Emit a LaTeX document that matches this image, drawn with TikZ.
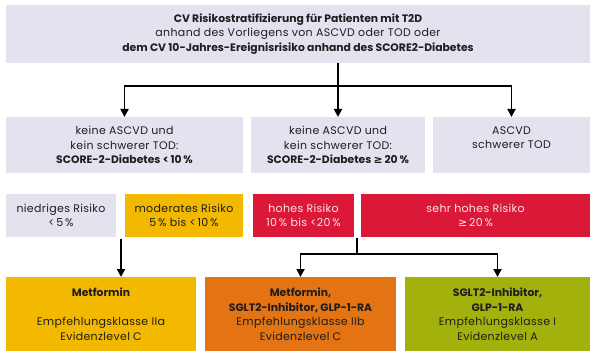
\documentclass[tikz,border=0pt]{standalone}
\usepackage{fontspec}
\setmainfont{Poppins}[LetterSpace=3]
\newfontfamily\bfam{Poppins}
\newfontfamily\symfont{DejaVu Sans}
\usetikzlibrary{arrows.meta}
\definecolor{greybox}{HTML}{E2E3EF}
\definecolor{yellowbox}{HTML}{F3B800}
\definecolor{redbox}{HTML}{DB1838}
\definecolor{orangebox}{HTML}{E37313}
\definecolor{olivebox}{HTML}{A2B10B}
\definecolor{darktext}{HTML}{1E1E1E}
\definecolor{pinktext}{HTML}{FBE3E8}
\newcommand{\mygeq}{{\symfont ≥}}
\newcommand{\bt}[1]{{\bfam\bfseries\fontsize{10.8}{14.5}\selectfont #1}}
\tikzset{
  bx/.style={anchor=north west, inner sep=0pt, outer sep=0pt, align=center,
    text=darktext, font=\fontsize{11}{14.5}\selectfont},
  conn/.style={line width=1.8pt, draw=black},
  arr/.style={conn, -{Triangle[width=8pt,length=8pt]}},
}
\begin{document}
\begin{tikzpicture}[x=1pt,y=-1pt]
\useasboundingbox[fill=white] (0,0) rectangle (597,358);
% top
\node[bx, fill=greybox, minimum width=584pt, minimum height=58pt] (b0) at (6,5)
  {\bt{CV Risikostratifizierung für Patienten mit T2D}\\
   anhand des Vorliegens von ASCVD oder TOD oder\\
   \bt{dem CV 10-Jahres-Ereignisrisiko anhand des SCORE2-Diabetes}};
% row 2
\node[bx, fill=greybox, minimum width=237pt, minimum height=56pt] (b21) at (6,117)
  {keine ASCVD und\\kein schwerer TOD:\\\bt{SCORE-2-Diabetes <\,10\,\%}};
\node[bx, fill=greybox, minimum width=174pt, minimum height=56pt] (b22) at (251,117)
  {keine ASCVD und\\kein schwerer TOD:\\\bt{SCORE-2-Diabetes \mygeq\,20\,\%}};
\node[bx, fill=greybox, minimum width=157pt, minimum height=56pt] (b23) at (433,117)
  {ASCVD\\schwerer TOD\\~};
% row 3
\node[bx, fill=greybox, minimum width=110pt, minimum height=43pt] (b31) at (6,194)
  {niedriges Risiko\\<\,5\,\%};
\node[bx, fill=yellowbox, minimum width=118pt, minimum height=43pt] (b32) at (125,194)
  {moderates Risiko\\5\,\% bis <\,10\,\%};
\node[bx, fill=redbox, text=pinktext, minimum width=101pt, minimum height=43pt] (b33) at (253,194)
  {hohes Risiko\\10\,\% bis <20\,\%};
\node[bx, fill=redbox, text=pinktext, minimum width=229pt, minimum height=43pt] (b34) at (361,194)
  {sehr hohes Risiko\\\mygeq\,20\,\%};
% row 4
\node[bx, fill=yellowbox, minimum width=190pt, minimum height=74pt] (b41) at (6,277)
  {\bt{Metformin}\\~\\Empfehlungsklasse IIa\\Evidenzlevel C};
\node[bx, fill=orangebox, minimum width=191pt, minimum height=74pt] (b42) at (205,277)
  {\bt{Metformin,}\\\bt{SGLT2-Inhibitor, GLP-1-RA}\\Empfehlungsklasse IIb\\Evidenzlevel C};
\node[bx, fill=olivebox, minimum width=185pt, minimum height=74pt] (b43) at (405,277)
  {\bt{SGLT2-Inhibitor,}\\\bt{GLP-1-RA}\\Empfehlungsklasse I\\Evidenzlevel A};
% connectors top -> row 2
\coordinate (j0) at (b22.north |- 0,86);
\draw[conn] (b22.north |- b0.south) -- (j0);
\draw[arr] (j0) -| (b21.north);
\draw[arr] (j0) -- (b22.north);
\draw[arr] (j0) -| (b23.north);
% row 3 -> row 4
\coordinate (g1) at (121,239);
\draw[arr] (g1) -- (g1 |- b41.north);
\coordinate (g2) at (357,238);
\coordinate (j2) at (357,254);
\draw[conn] (g2) -- (j2);
\draw[arr] (j2) -| (b42.north);
\draw[arr] (j2) -| (b43.north);
\end{tikzpicture}
\end{document}
